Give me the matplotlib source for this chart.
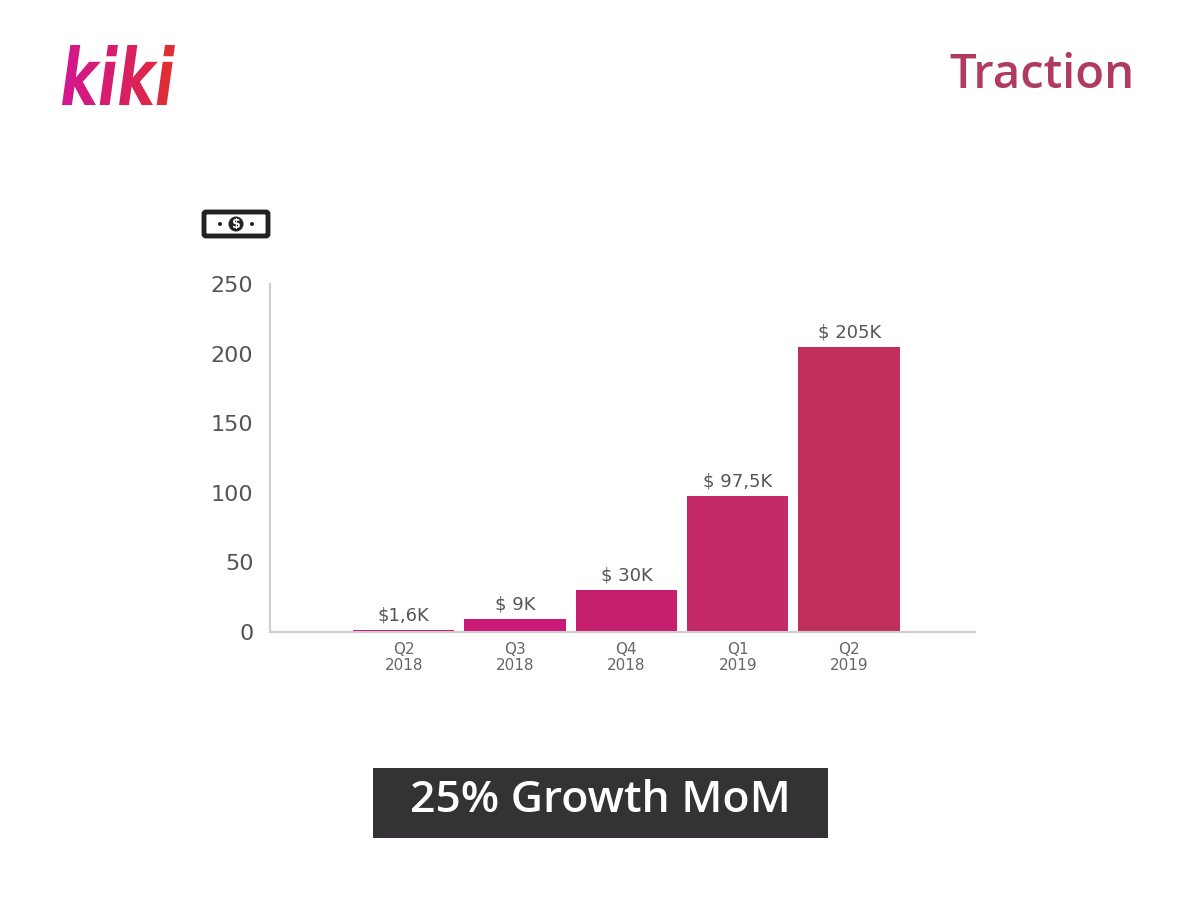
import matplotlib
matplotlib.use("Agg")
import matplotlib.pyplot as plt
import numpy as np
from matplotlib.patches import FancyBboxPatch, Rectangle, Circle, PathPatch
from matplotlib.textpath import TextPath
from matplotlib.font_manager import FontProperties
from matplotlib.transforms import Affine2D
from matplotlib.colors import LinearSegmentedColormap

# ---- data ----
categories = ["Q2\n2018", "Q3\n2018", "Q4\n2018", "Q1\n2019", "Q2\n2019"]
values = [1.6, 9, 30, 97.5, 205]
value_labels = ["$1,6K", "$ 9K", "$ 30K", "$ 97,5K", "$ 205K"]
bar_colors = ["#c2187c", "#c81a76", "#c71f70", "#c42a68", "#c1305b"]
yticks = [0, 50, 100, 150, 200, 250]
title = "Traction"
logo = "kiki"
banner = "25% Growth MoM"

fig = plt.figure(figsize=(12, 9), dpi=100)
fig.patch.set_facecolor("white")

# ---- main chart ----
ax = fig.add_axes([0.225, 1 - 632 / 900, (975 - 270) / 1200, (632 - 284) / 900])
x = np.arange(len(categories))
ax.bar(x, values, width=0.91, color=bar_colors)
ax.set_xlim(-1.2, 5.13)
ax.set_ylim(0, 250)
ax.set_yticks(yticks)
ax.set_yticklabels([str(v) for v in yticks], fontsize=16, color="#555555",
                   family="DejaVu Sans")
ax.set_xticks(x)
ax.set_xticklabels(categories, fontsize=11, color="#666666", linespacing=1.1)
ax.tick_params(axis="both", length=0)
ax.tick_params(axis="y", pad=12)
ax.tick_params(axis="x", pad=7)
for s in ["top", "right"]:
    ax.spines[s].set_visible(False)
for s in ["left", "bottom"]:
    ax.spines[s].set_color("#cccccc")
    ax.spines[s].set_linewidth(1.5)
for xi, v, lab in zip(x, values, value_labels):
    ax.annotate(lab, (xi, v), xytext=(0, 4), textcoords="offset points",
                ha="center", va="bottom", fontsize=13, color="#555555")

# ---- title ----
fig.text(1135 / 1200, 1 - 75 / 900, title, ha="right", va="center",
         fontsize=34, color="#b03b5e", family="Open Sans", weight="semibold")

# ---- logo with gradient ----
lax = fig.add_axes([0, 0, 1, 1], zorder=5)
lax.set_xlim(0, 1200)
lax.set_ylim(900, 0)
lax.axis("off")
fp = FontProperties(family="DejaVu Sans", weight="bold", style="italic")
tp = TextPath((0, 0), logo, size=60, prop=fp)
bb = tp.get_extents()
sx = (175 - 62) / bb.width
sy = (105 - 45) / bb.height
tr = Affine2D().translate(-bb.x0, -bb.y0).scale(sx, -sy).translate(62, 105)
path = tr.transform_path(tp)
patch = PathPatch(path, facecolor="none", edgecolor="none")
lax.add_patch(patch)
grad = np.linspace(0, 1, 256).reshape(1, -1)
cmap = LinearSegmentedColormap.from_list("kiki", ["#d4178f", "#d81e6a", "#e2302e"])
im = lax.imshow(grad, extent=[62, 175, 105, 45], cmap=cmap, aspect="auto")
im.set_clip_path(patch)
lax.set_xlim(0, 1200)
lax.set_ylim(900, 0)

# ---- money icon ----
lax.add_patch(FancyBboxPatch((204, 212), 64, 24, boxstyle="round,pad=0,rounding_size=2",
                             facecolor="white", edgecolor="#222222", linewidth=3.5))
lax.add_patch(Circle((236, 224), 7.5, facecolor="#222222", edgecolor="none"))
lax.text(236, 224.5, "$", ha="center", va="center", fontsize=9, color="white",
         weight="bold")
lax.add_patch(Circle((220, 224), 2, facecolor="#222222"))
lax.add_patch(Circle((252, 224), 2, facecolor="#222222"))

# ---- banner ----
lax.add_patch(Rectangle((373, 768), 455, 70, facecolor="#353235", edgecolor="none"))
lax.text(600, 801, banner, ha="center", va="center", fontsize=32, color="white",
         family="Open Sans", weight="semibold")

fig.savefig("out.png", dpi=100, facecolor="white")
